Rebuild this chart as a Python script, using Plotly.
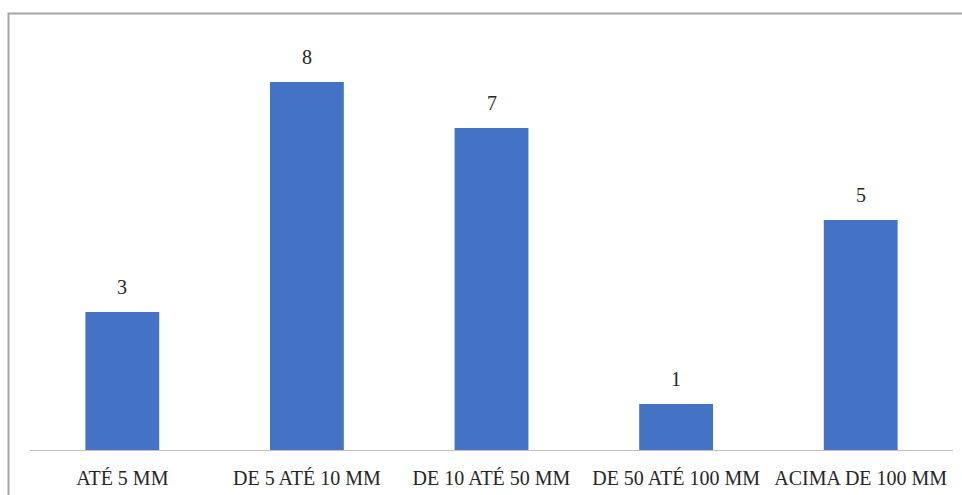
import plotly.graph_objects as go

# Distribution of records by size class
categories = ["ATÉ 5 MM", "DE 5 ATÉ 10 MM", "DE 10 ATÉ 50 MM", "DE 50 ATÉ 100 MM", "ACIMA DE 100 MM"]
counts = [3, 8, 7, 1, 5]

W, H = 962, 495
ML, MR, MT, MB = 30, 9, 13, 45
plot_w = W - ML - MR
plot_h = H - MT - MB

fig = go.Figure(
    go.Bar(
        x=categories,
        y=counts,
        marker=dict(color="#4472C4", line=dict(width=0)),
        width=0.4,
        hoverinfo="skip",
    )
)

# value labels above each bar
for cat, val in zip(categories, counts):
    fig.add_annotation(
        x=cat, y=val, text=str(val), showarrow=False,
        yanchor="bottom", yshift=12,
        font=dict(family="Liberation Serif", size=20, color="#262626"),
    )

# outer chart frame (right and bottom edges fall outside the page)
fx0 = (8.5 - ML) / plot_w
fy1 = 1.0 + (MT - 13.5) / plot_h
fig.add_shape(
    type="rect", xref="paper", yref="paper",
    x0=fx0, x1=1.2, y0=-0.3, y1=fy1,
    line=dict(color="#A6A6A6", width=2), fillcolor="rgba(0,0,0,0)",
    layer="above",
)

fig.update_layout(
    width=W, height=H,
    margin=dict(l=ML, r=MR, t=MT, b=MB, pad=0),
    paper_bgcolor="white", plot_bgcolor="white",
    showlegend=False,
    xaxis=dict(
        showline=True, linecolor="#BFBFBF", linewidth=1,
        ticks="", tickangle=0, ticklabelstandoff=10,
        tickfont=dict(family="Liberation Serif", size=20, color="#262626"),
        showgrid=False, zeroline=False, automargin=False,
    ),
    yaxis=dict(
        range=[0, plot_h / 46.0], visible=False,
        showgrid=False, zeroline=False, automargin=False,
    ),
)

fig.write_html("out.html")
